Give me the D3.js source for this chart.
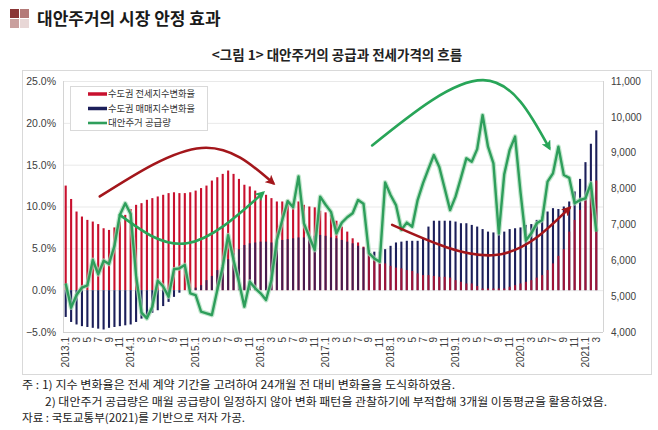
<!DOCTYPE html>
<html><head><meta charset="utf-8">
<script src="https://cdn.jsdelivr.net/npm/d3@7"></script>
<style>body{margin:0;background:#fff}svg{display:block}</style>
</head><body>
<svg id="c" width="658" height="430"></svg>
<script>
// ---------------- DATA ----------------
const seriesNames = ["수도권 전세지수변화율", "수도권 매매지수변화율", "대안주거 공급량"];
// months 2013.1 ... 2021.3 (99 months)
const firstYear = 2013, monthCount = 99;
const categories = d3.range(monthCount).map(i => (firstYear + Math.floor(i / 12)) + "." + (i % 12 + 1));
const tickLabels = categories.map(c => { const m = +c.split(".")[1]; return m === 1 ? c : (m % 2 === 1 ? String(m) : ""); });

// 수도권 전세지수변화율 (%), left axis
const jeonseRate = [
 12.5,10.9,9.4,8.8,8.4,8.2,7.9,7.4,7.2,7.5,8.2,9.0,
 9.7,10.2,10.4,10.8,11.0,11.2,11.4,11.6,11.7,11.6,11.6,11.7,
 11.9,12.2,12.5,13.1,13.5,13.9,14.3,13.9,13.3,12.6,12.4,11.9,
 11.6,11.4,11.0,10.6,10.6,10.8,10.4,10.6,10.2,10.0,9.9,9.5,
 9.3,9.0,8.3,7.6,7.0,6.2,5.7,5.2,4.6,3.6,3.3,3.2,
 2.9,2.7,2.6,2.4,2.3,2.0,1.8,1.8,1.7,1.6,1.6,1.5,
 1.2,1.0,0.8,0.8,0.5,0.2,0.2,0.2,0.2,0.2,0.4,0.6,
 0.8,1.0,1.2,1.5,1.8,2.4,3.2,4.1,4.9,7.0,8.4,9.6,
 11.0,12.2,13.1
];
// 수도권 매매지수변화율 (%), left axis
const saleRate = [
 -3.2,-3.8,-4.1,-4.3,-4.4,-4.5,-4.6,-4.7,-4.5,-4.4,-4.3,-4.2,
 -4.1,-3.8,-3.4,-3.2,-2.7,-2.4,-1.9,-1.4,-0.8,-0.3,0.0,0.1,
 0.3,0.6,1.2,1.7,2.4,3.0,3.7,4.4,4.9,5.4,5.6,5.7,
 5.8,5.8,5.7,5.9,6.0,6.1,6.2,6.3,6.3,6.4,6.5,6.6,
 6.5,6.3,6.2,6.0,5.8,5.6,5.3,5.1,4.8,4.6,4.6,4.9,
 5.3,5.7,5.8,5.9,5.9,5.9,6.2,7.6,8.3,8.3,8.3,8.3,
 8.2,8.0,8.0,7.8,7.6,7.3,7.0,6.9,6.8,7.0,7.3,7.4,
 7.5,7.8,7.9,8.4,8.8,9.4,9.8,9.7,10.0,10.6,11.8,13.3,
 15.3,17.5,19.1
];
// 대안주거 공급량 (3-month moving average), right axis
const supply = [
 5350,4680,5030,5240,5300,6010,5610,5985,5900,6400,7263,7589,
 7290,5560,4540,4381,4706,5430,5270,4985,5750,5776,5869,5080,
 5030,4567,4521,4474,5171,5822,6700,6008,5394,4706,5404,5218,
 5079,4892,5450,6566,7123,7650,7480,8340,7030,6650,6287,7774,
 7550,7350,6750,7050,7200,7310,7680,7580,6200,6050,5960,8170,
 7820,7540,6850,7050,6937,7681,8150,8550,8936,8600,8000,7400,
 7774,8300,8843,8750,9100,10050,9168,8704,6752,8400,9075,9450,
 7900,6550,6752,7030,7123,8192,8424,9168,8378,8300,7589,7681,
 7728,8146,6800
];
const leftTicks = [-5, 0, 5, 10, 15, 20, 25];
const rightTicks = [4000, 5000, 6000, 7000, 8000, 9000, 10000, 11000];

// annotation arrows: [month index, left-axis %]
const arrowRedArc   = [[6.3, 11.2], [25.1, 17.0], [38.3, 12.8]];
const arrowGreenU   = [[10.0, 9.0], [22.4, 5.6], [36.4, 11.6]];
const arrowGreenArc = [[56.6, 17.3], [77.1, 25.1], [89.3, 17.0]];
const arrowRedU     = [[60.3, 7.8], [79.3, 4.2], [93.0, 9.8]];

const title = "대안주거의 시장 안정 효과";
const subtitle = "<그림 1> 대안주거의 공급과 전세가격의 흐름";
const notes = [
  "주 : 1) 지수 변화율은 전세 계약 기간을 고려하여 24개월 전 대비 변화율을 도식화하였음.",
  "2) 대안주거 공급량은 매월 공급량이 일정하지 않아 변화 패턴을 관찰하기에 부적합해 3개월 이동평균을 활용하였음.",
  "자료 : 국토교통부(2021)를 기반으로 저자 가공."
];

// ---------------- DRAW ----------------
const RED = "#c8102e", NAVY = "#1c1f5a", GREEN = "#2e9e5b", ARROW_RED = "#a3161b", ARROW_GREEN = "#28a558";
const KR = "'Noto Sans CJK KR','Noto Sans',sans-serif";
const NUM = "'Liberation Sans',Arial,sans-serif";

const svg = d3.select("#c");
svg.append("rect").attr("width", 658).attr("height", 430).attr("fill", "#fff");

// title icon
const icon = svg.append("g");
[["#8a3535", 0, 0], ["#b47a78", 1, 0], ["#c9a09e", 0, 1], ["#e8d7d6", 1, 1]].forEach(([c, i, j]) =>
  icon.append("rect").attr("x", 10 + i * 10).attr("y", 9 + j * 10).attr("width", 9).attr("height", 9).attr("fill", c));

svg.append("text").attr("x", 37).attr("y", 25).attr("font-family", KR).attr("font-weight", 700)
  .attr("font-size", 17).attr("fill", "#1a1a1a").text(title);
svg.append("text").attr("x", 337).attr("y", 60).attr("text-anchor", "middle").attr("font-family", KR)
  .attr("font-weight", 700).attr("font-size", 13.5).attr("fill", "#222").text(subtitle);

// frame
svg.append("rect").attr("x", 22.5).attr("y", 70.5).attr("width", 629).attr("height", 304)
  .attr("fill", "#fff").attr("stroke", "#d9d9d9");

const plotL = 63, plotR = 603, plotT = 81, plotB = 332;
const x = d3.scaleBand().domain(categories).range([plotL, 599]).padding(0);
const bw = x.bandwidth();
const cx = c => x(c) + bw / 2;
const xi = d3.scaleLinear().domain([0, monthCount - 1]).range([cx(categories[0]), cx(categories[monthCount - 1])]);
const yL = d3.scaleLinear().domain([-5, 25]).range([plotB, plotT]);
const yR = d3.scaleLinear().domain([4000, 11000]).range([plotB, plotT]);

// gridlines
svg.append("g").selectAll("line").data(leftTicks).join("line")
  .attr("x1", plotL).attr("x2", plotR).attr("y1", d => yL(d) + 0.5).attr("y2", d => yL(d) + 0.5)
  .attr("stroke", d => d === -5 ? "#cfcfcf" : "#e9e9e9");
svg.append("line").attr("x1", plotL + 0.5).attr("x2", plotL + 0.5).attr("y1", plotT).attr("y2", plotB).attr("stroke", "#d4d4d4");
svg.append("line").attr("x1", plotR + 0.5).attr("x2", plotR + 0.5).attr("y1", plotT).attr("y2", plotB).attr("stroke", "#d4d4d4");

// bars: larger magnitude behind, smaller in front (slightly see-through where they overlap)
const barData = [];
categories.forEach((c, i) => {
  const a = jeonseRate[i], b = saleRate[i];
  const pair = [{c, v: a, col: RED}, {c, v: b, col: NAVY}];
  pair.sort((p, q) => Math.abs(q.v) - Math.abs(p.v));
  const overlap = a * b > 0;
  pair[0].op = 1; pair[1].op = overlap ? 0.75 : 1;
  barData.push(...pair);
});
svg.append("g").selectAll("rect").data(barData).join("rect")
  .attr("x", d => cx(d.c) - 1.05).attr("width", 2.1)
  .attr("y", d => yL(Math.max(0, d.v))).attr("height", d => Math.abs(yL(d.v) - yL(0)))
  .attr("fill", d => d.col).attr("opacity", d => d.op);

// supply line
const line = d3.line().x((d, i) => cx(categories[i])).y(d => yR(d));
svg.append("path").datum(supply).attr("d", line).attr("fill", "none")
  .attr("stroke", "#a8dcb8").attr("stroke-width", 4.8).attr("stroke-linejoin", "round").attr("opacity", 0.7);
svg.append("path").datum(supply).attr("d", line).attr("fill", "none")
  .attr("stroke", GREEN).attr("stroke-width", 2.4).attr("stroke-linejoin", "round");

// arrows
const defs = svg.append("defs");
function marker(id, col) {
  defs.append("marker").attr("id", id).attr("viewBox", "0 0 10 10").attr("refX", 7).attr("refY", 5)
    .attr("markerWidth", 10).attr("markerHeight", 10).attr("markerUnits", "userSpaceOnUse").attr("orient", "auto")
    .append("path").attr("d", "M0,0 L10,5 L0,10 L2.5,5 Z").attr("fill", col);
}
marker("mr", ARROW_RED); marker("mg", ARROW_GREEN);
const arrowLine = d3.line().x(d => xi(d[0])).y(d => yL(d[1])).curve(d3.curveNatural);
[[arrowRedArc, ARROW_RED, "mr"], [arrowGreenU, ARROW_GREEN, "mg"], [arrowGreenArc, ARROW_GREEN, "mg"], [arrowRedU, ARROW_RED, "mr"]]
  .forEach(([pts, col, m]) => svg.append("path").attr("d", arrowLine(pts)).attr("fill", "none")
    .attr("stroke", col).attr("stroke-width", 2.6).attr("stroke-linecap", "round").attr("marker-end", `url(#${m})`));

// left axis
const axL = svg.append("g").attr("transform", `translate(${plotL},0)`)
  .call(d3.axisLeft(yL).tickValues(leftTicks).tickSize(0).tickPadding(7).tickFormat(d => d3.format(".1f")(d) + "%"));
axL.select(".domain").remove();
axL.selectAll("text").attr("font-family", NUM).attr("font-size", 10.5).attr("fill", "#404040");
// right axis
const axR = svg.append("g").attr("transform", `translate(${plotR},0)`)
  .call(d3.axisRight(yR).tickValues(rightTicks).tickSize(0).tickPadding(8).tickFormat(d3.format(",")));
axR.select(".domain").remove();
axR.selectAll("text").attr("font-family", NUM).attr("font-size", 10).attr("fill", "#404040");
// x axis
const axX = svg.append("g").attr("transform", `translate(0,${plotB})`)
  .call(d3.axisBottom(x).tickSize(0).tickFormat((d, i) => tickLabels[i]));
axX.select(".domain").remove();
axX.selectAll("text").attr("font-family", NUM).attr("font-size", 10).attr("fill", "#404040")
  .attr("transform", "rotate(-90)").attr("x", -5).attr("y", 0).attr("dy", "0.35em").attr("text-anchor", "end");

// legend
const lg = svg.append("g");
lg.append("rect").attr("x", 70.5).attr("y", 86.5).attr("width", 137).attr("height", 44)
  .attr("fill", "#fff").attr("stroke", "#d9d9d9");
const legCols = [RED, NAVY, GREEN];
seriesNames.forEach((n, i) => {
  const yy = 94 + i * 14.5;
  lg.append("line").attr("x1", 88).attr("x2", 107).attr("y1", yy).attr("y2", yy)
    .attr("stroke", legCols[i]).attr("stroke-width", i < 2 ? 3.5 : 2.6);
  lg.append("text").attr("x", 108).attr("y", yy).attr("dy", "0.36em").attr("font-family", KR)
    .attr("font-size", 9.5).attr("fill", "#333").attr("textLength", i < 2 ? 87 : 63)
    .attr("lengthAdjust", "spacingAndGlyphs").text(n);
});

// notes
const noteX = [22, 45, 22], noteY = [389, 405.5, 422], noteW = [433, 562, 223];
notes.forEach((t, i) => svg.append("text").attr("x", noteX[i]).attr("y", noteY[i]).attr("font-family", KR)
  .attr("font-size", 11.2).attr("fill", "#222").attr("textLength", noteW[i]).attr("lengthAdjust", "spacingAndGlyphs").text(t));
</script>
</body></html>
